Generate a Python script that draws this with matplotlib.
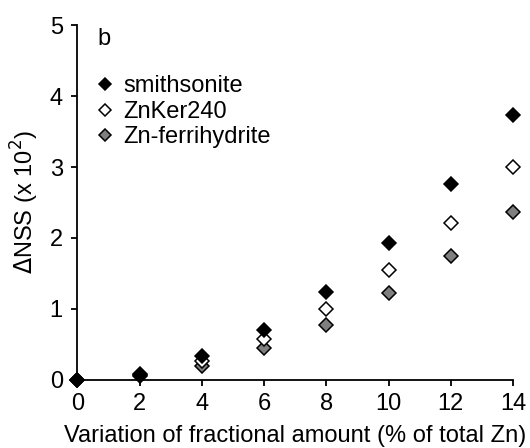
import matplotlib
matplotlib.use('Agg')
import matplotlib.pyplot as plt

plt.rcParams['font.family'] = ['Liberation Sans', 'DejaVu Sans']

# fractional amount variation (% of total Zn) and dNSS (x 10^2)
frac = [0, 2, 4, 6, 8, 10, 12, 14]
smithsonite = [0, 0.09, 0.33, 0.71, 1.24, 1.93, 2.76, 3.74]
znker240 = [0, 0.07, 0.26, 0.57, 1.00, 1.55, 2.21, 3.00]
znferri = [0, 0.06, 0.20, 0.45, 0.77, 1.23, 1.75, 2.37]

fig = plt.figure(figsize=(5.3, 4.48), dpi=100)
ax = fig.add_axes([0.146, 0.152, 0.822, 0.792])

kw = dict(linestyle='none', marker='D', ms=7.2, mec='black', mew=1.1, clip_on=False, zorder=3)
ax.plot(frac, znferri, mfc='#7f7f7f', label='Zn-ferrihydrite', **kw)
ax.plot(frac, znker240, mfc='white', label='ZnKer240', **kw)
ax.plot(frac, smithsonite, mfc='black', label='smithsonite', **kw)

ax.set_xlim(0, 14)
ax.set_ylim(0, 5)
ax.set_xticks(range(0, 15, 2))
ax.set_yticks(range(0, 6))
for s in ['top', 'right']:
    ax.spines[s].set_visible(False)
for s in ['left', 'bottom']:
    ax.spines[s].set_linewidth(1.3)
ax.tick_params(direction='out', length=4.5, width=1.3, labelsize=17)
ax.tick_params(axis='x', pad=5)
ax.tick_params(axis='y', pad=6)

ax.set_xlabel('Variation of fractional amount (% of total Zn)', fontsize=17, labelpad=7)
ax.set_ylabel(r'$\Delta$NSS (x 10$^2$)', fontsize=17, labelpad=6)
ax.text(0.045, 0.96, 'b', transform=ax.transAxes, fontsize=17, va='center')

h, l = ax.get_legend_handles_labels()
ax.legend(h[::-1], l[::-1], loc='upper left', bbox_to_anchor=(0.0, 0.905), frameon=False,
          fontsize=17, markerscale=0.8, handlelength=0.9, handletextpad=0.35,
          labelspacing=0.15, borderaxespad=0.3)

fig.savefig('out.png', dpi=100)
